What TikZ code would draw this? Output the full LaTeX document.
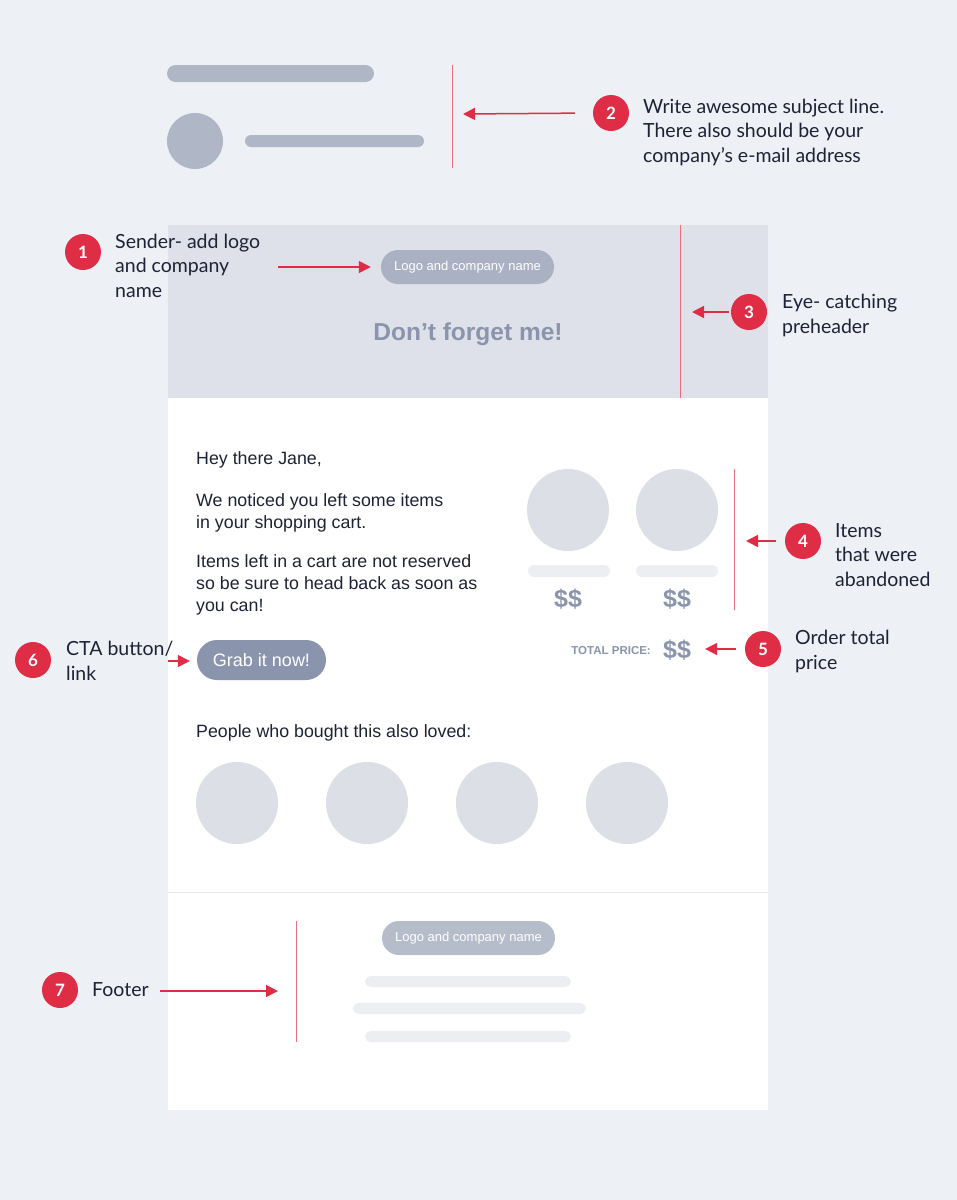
\documentclass[tikz,border=0pt]{standalone}
\usepackage{fontspec}
\setmainfont{Lato}
\newfontfamily\uifont{Liberation Sans}
\usetikzlibrary{arrows.meta}
\definecolor{bgc}{HTML}{EDF0F5}
\definecolor{headc}{HTML}{DEE1E9}
\definecolor{pillc}{HTML}{A9B1C3}
\definecolor{pillf}{HTML}{B5BCCA}
\definecolor{greyt}{HTML}{8A94AC}
\definecolor{phc}{HTML}{DCDFE6}
\definecolor{barc}{HTML}{EDEEF2}
\definecolor{topc}{HTML}{AFB7C7}
\definecolor{redc}{HTML}{E02D46}
\definecolor{redl}{HTML}{E8707F}
\definecolor{darkt}{HTML}{1F2235}
\definecolor{sepc}{HTML}{E6E8EE}
\tikzset{
  badge/.style={circle, fill=redc, minimum size=36pt, inner sep=0pt, text=white, font=\fontsize{17}{17}\selectfont\bfseries},
  note/.style={anchor=base west, align=left, inner sep=0pt, text=darkt, font=\fontsize{19.5}{24.5}\selectfont},
  body/.style={anchor=base west, align=left, inner sep=0pt, text=darkt, font=\uifont\fontsize{17.8}{22}\selectfont},
  arr/.style={draw=redc, line width=1.5pt, -{Triangle[length=12pt,width=12pt]}},
  markline/.style={draw=redl, line width=1pt},
  pill/.style={fill=#1, rounded corners=17pt, minimum width=173pt, minimum height=34pt, inner sep=0pt, text=white, font=\uifont\fontsize{13}{13}\selectfont},
  ph/.style={circle, fill=phc, minimum size=82pt, inner sep=0pt},
  price/.style={text=greyt, inner sep=0pt, anchor=base, font=\uifont\bfseries\fontsize{25}{25}\selectfont},
}
\begin{document}
\begin{tikzpicture}[x=1pt,y=-1pt]
\useasboundingbox (0,0) rectangle (957,1200);
\fill[bgc] (0,0) rectangle (957,1200);

% ---- subject preview
\fill[topc, rounded corners=8.5pt] (167,65) rectangle (374,82);
\node[circle, fill=topc, minimum size=56pt, inner sep=0pt] (avatar) at (195,141) {};
\fill[topc, rounded corners=6pt] (245,135) rectangle (424,147);
\draw[markline] (452,65) -- (452,168);
\coordinate (t2) at (463,114);
\node[badge] (b2) at (611,113) {2};
\node[note] (n2) at (643,162) {Write awesome subject line.\\There also should be your\\company’s e-mail address};
\draw[arr, shorten <=18pt] (b2.west) -- (t2);

% ---- email card
\fill[white] (168,398) rectangle (768,1110);
\fill[headc] (168,225) rectangle (768,398);
\draw[markline] (680,225) -- (680,398);
\node[pill=pillc] (logo) at (467.5,267) {Logo and company name};
\node[text=greyt, inner sep=0pt, font=\uifont\bfseries\fontsize{24.5}{24.5}\selectfont] (title) at (468,334) {Don’t forget me!};

\node[badge] (b1) at (83,252) {1};
\node[note] (n1) at (115,297) {Sender- add logo\\and company\\name};
\coordinate (s1) at (278,267);
\draw[arr, shorten >=10pt] (s1) -- (logo.west);

\node[badge] (b3) at (749,312) {3};
\node[note] (n3) at (782,333) {Eye- catching\\preheader};
\coordinate (t3) at (692,312);
\draw[arr, shorten <=2pt] (b3.west) -- (t3);

% ---- body text
\node[body] (hey) at (196,464) {Hey there Jane,};
\node[body] (p1) at (196,528) {We noticed you left some items\\in your shopping cart.};
\node[body] (p2) at (196,611) {Items left in a cart are not reserved\\so be sure to head back as soon as\\you can!};

% ---- items
\node[ph] (i1) at (568,510) {};
\node[ph] (i2) at (677,510) {};
\fill[barc, rounded corners=6pt] (528,565) rectangle (610,577);
\fill[barc, rounded corners=6pt] (636,565) rectangle (718,577);
\node[price] (pr1) at (568,607) {\$\$};
\node[price] (pr2) at (677,607) {\$\$};
\draw[markline] (734,469) -- (734,610);
\node[badge] (b4) at (803,541) {4};
\node[note] (n4) at (835,586) {Items\\that were\\abandoned};
\coordinate (t4) at (746,541);
\draw[arr, shorten <=9pt] (b4.west) -- (t4);

% ---- total
\node[price] (tot) at (677,658) {\$\$};
\node[text=greyt, inner sep=0pt, anchor=base east, font=\uifont\bfseries\fontsize{11.5}{11.5}\selectfont] (totl) at (651,654) {TOTAL PRICE:};
\node[badge] (b5) at (763,649) {5};
\node[note] (n5) at (795,669) {Order total\\price};
\draw[arr, shorten <=9pt, shorten >=14pt] (b5.west) -- (tot.east |- b5.west);

% ---- CTA
\node[fill=greyt, rounded corners=20pt, minimum width=129pt, minimum height=40pt, inner sep=0pt, text=white, font=\uifont\fontsize{18}{18}\selectfont] (cta) at (261.5,660) {Grab it now!};
\node[badge] (b6) at (33,660) {6};
\node[note] (n6) at (66,680) {CTA button/\\link};
\coordinate (s6) at (168,661);
\draw[arr, shorten >=7pt] (s6) -- (cta.west |- s6);

% ---- recommendations
\node[body] (ppl) at (196,737) {People who bought this also loved:};
\node[ph] (r1) at (237,803) {};
\node[ph] (r2) at (367,803) {};
\node[ph] (r3) at (497,803) {};
\node[ph] (r4) at (627,803) {};

% ---- footer
\draw[sepc, line width=1pt] (168,892) -- (768,892);
\node[pill=pillf] (flogo) at (468.5,938) {Logo and company name};
\fill[barc, rounded corners=5.5pt] (365,976) rectangle (571,987);
\fill[barc, rounded corners=5.5pt] (353,1003) rectangle (586,1014);
\fill[barc, rounded corners=5.5pt] (365,1031) rectangle (571,1042);
\draw[markline] (296,921) -- (296,1042);
\node[badge] (b7) at (60,990) {7};
\node[note] (n7) at (92,996) {Footer};
\coordinate (s7) at (160,991);
\coordinate (t7) at (278,991);
\draw[arr] (s7) -- (t7);
\end{tikzpicture}
\end{document}
